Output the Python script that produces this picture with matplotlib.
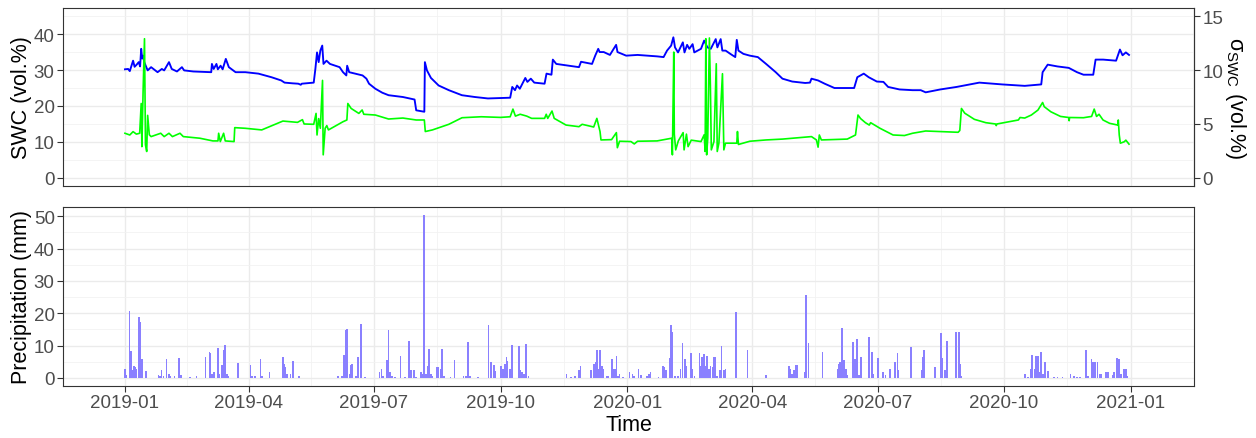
import numpy as np
import pandas as pd
import matplotlib
matplotlib.use("Agg")
import matplotlib.pyplot as plt
import matplotlib.dates as mdates

plt.rcParams['font.family'] = ['Liberation Sans', 'DejaVu Sans']
plt.rcParams['mathtext.fontset'] = 'custom'
plt.rcParams['mathtext.rm'] = 'Liberation Sans'
plt.rcParams['mathtext.it'] = 'Liberation Sans:italic'

start = pd.Timestamp('2019-01-01')

# soil water content (vol.%), day offsets from start
swc_day = [0, 2.3, 3.5, 5.9, 7, 8.5, 10, 11, 11.8, 12.5, 13.2, 14, 16.5, 19, 21, 23.7,
           26.8, 28.5, 32, 34, 37.8, 41.4, 43, 49.7, 62.7, 63.2, 64.5, 66.5, 67.5, 69.5,
           71, 73.3, 75.5, 80.4, 87.5, 97, 106.5, 113.6, 116, 122, 126, 127.8, 128.5,
           137.2, 138.4, 139.6, 140.8, 142, 143.4, 144.3, 146.5, 149, 156, 158.5, 160.9,
           161.5, 163, 172.7, 175.5, 177.4, 182, 187, 191.6, 202, 210.5, 211.7, 217.6,
           218, 219.5, 222.4, 228, 235.4, 244.9, 254.3, 263.8, 273, 280, 281.5, 283.5,
           285, 287, 291, 292.5, 295, 297.5, 305, 306.4, 310, 311, 313.5, 320.6, 330,
           331.5, 339.5, 341.8, 344, 345, 348, 352.5, 357, 358, 364.3, 372.6, 386.8,
           391.5, 394, 397, 398.6, 399.8, 402, 405.5, 406.7, 408.6, 410.2, 412.6, 413.8,
           418.7, 421, 422.2, 423.4, 425.8, 429.4, 430.6, 433, 434.2, 436.6, 440, 443.6,
           444.7, 445.9, 449.5, 454.2, 460, 466, 473, 477.9, 485, 494.4, 497.9, 499,
           503.8, 508.6, 515.7, 530, 532.3, 537, 540.6, 546.5, 551.3, 554.7, 563, 572.5,
           578.4, 582, 592.6, 604.5, 621, 637.6, 654, 666, 667, 670.7, 677.8, 686, 692,
           696.7, 703.8, 705.5, 711, 720.4, 723.2, 725.1, 727.5, 729.8]
swc_val = [30.2, 30.3, 29.7, 32.6, 30.9, 31.5, 32.2, 31, 35.9, 33.2, 34, 32.2, 29.9, 30.8,
           30.2, 29.4, 30.3, 29.9, 32.2, 30.3, 29.6, 30.8, 29.9, 29.6, 29.4, 31.7, 30.3,
           31.7, 30.2, 31.2, 30.2, 33.1, 30.8, 29.4, 29.4, 29.0, 28.0, 27.1, 26.5, 26.3,
           26.2, 25.9, 26.2, 26.5, 30.3, 34.9, 32.2, 35.4, 36.8, 31.7, 32.6, 31.7, 30.8,
           29.4, 28.5, 31.2, 29.4, 28.5, 27.6, 26.2, 24.8, 23.7, 23.0, 22.5, 21.8, 18.8,
           18.4, 32.2, 29.9, 27.8, 25.7, 24.4, 23.0, 22.5, 22.1, 22.2, 22.3, 25.3, 24.4,
           25.7, 24.8, 27.8, 26.7, 27.6, 26.5, 26.2, 29.0, 28.7, 32.9, 31.7, 31.3, 30.8,
           32.3, 31.7, 34.0, 35.9, 35, 35, 34.2, 37.0, 35, 34.0, 34.2, 33.8, 33.6, 35.4,
           36.8, 39.1, 36.3, 34.9, 37.7, 34.9, 37, 35.9, 37.2, 34.9, 35.9, 38.2, 37.2,
           36.3, 35.9, 38.6, 36.3, 38.6, 35.4, 35.4, 34.5, 33.6, 38.4, 35.4, 34.5, 34.0,
           33.6, 31.7, 29.4, 27.6, 26.8, 26.4, 26.5, 27.6, 27.1, 26.2, 25.0, 25.0, 28.0,
           29.0, 28.0, 26.8, 26.7, 25.3, 24.6, 24.4, 24.4, 23.8, 24.6, 25.3, 26.5, 26.0,
           25.6, 26.0, 29.4, 31.5, 31.0, 30.6, 29.4, 28.7, 28.7, 32.9, 32.9, 32.6, 35.7,
           34.1, 34.9, 34.2]

# standard deviation of SWC (vol.%), right axis
sd_day = [0, 3.5, 5.9, 8.3, 10.7, 11.8, 12.3, 13.2, 14.2, 14.9, 15.8, 16.5, 17.7, 19, 26,
          28.5, 32, 34.5, 40, 42.4, 54.4, 63.9, 67.6, 68.1, 69.3, 71.7, 72.9, 79.3, 79.8,
          87.5, 99.4, 114.8, 125.4, 129, 130.2, 137.2, 138.9, 139.6, 140.8, 142, 143.6,
          144.1, 145.5, 146.7, 147.9, 158.5, 161.3, 162, 164.4, 170, 172.4, 173.6, 182,
          191.6, 202, 211.7, 217.6, 218.3, 223.5, 235.4, 245, 259, 273, 280, 282, 283.8,
          287.3, 292, 295.6, 305, 306.2, 307.3, 310.4, 312, 320.6, 330, 332.3, 340.7, 343,
          345.3, 346, 353.7, 357.2, 357.9, 359.5, 367.8, 370.2, 372.6, 386.8, 397.4, 397.9,
          398.9, 399.3, 400.3, 402.2, 405.7, 406.4, 408.1, 409.3, 411.6, 418.7, 421, 421.7,
          422.2, 422.8, 423.6, 424.8, 425.5, 426.2, 428.1, 429.8, 430.5, 431.7, 434.3,
          435.3, 436.5, 444.7, 445.2, 445.9, 454.2, 466, 478, 499, 502.6, 503.8, 504.7,
          506.2, 525, 531, 532.8, 534.7, 538.2, 541, 542, 548.8, 558.3, 566.6, 572.5, 582,
          592.6, 605.6, 606.8, 608, 610.4, 617.4, 625.7, 632.8, 633.3, 633.8, 640, 649.4,
          650.6, 654, 658.8, 663.6, 667, 668.2, 673, 680, 686, 686.3, 686.6, 696.7, 702.6,
          704.5, 706.2, 708, 710.9, 715.7, 721.6, 722, 722.7, 723.5, 726.3, 727.5, 729.8]
sd_val = [4.14, 3.98, 4.29, 4.06, 4.14, 6.9, 2.9, 8.12, 12.9, 3.07, 2.45, 5.8, 4.0, 3.83,
          4.14, 3.83, 4.14, 3.83, 4.14, 3.83, 3.68, 3.43, 3.43, 4.14, 3.37, 4.14, 3.43,
          3.37, 4.66, 4.6, 4.45, 5.27, 5.15, 5.4, 5.0, 4.97, 5.98, 3.98, 5.5, 4.6, 9.04,
          2.14, 4.6, 4.85, 4.45, 5.21, 5.37, 6.9, 6.44, 5.98, 6.3, 5.9, 5.83, 5.46, 5.55,
          5.37, 5.37, 4.3, 4.45, 4.97, 5.58, 5.67, 5.61, 5.67, 6.38, 5.73, 5.9, 5.73, 5.52,
          5.52, 5.9, 5.52, 6.2, 5.52, 4.9, 4.75, 4.97, 4.72, 5.52, 4.3, 3.52, 3.55, 4.2,
          2.8, 3.4, 3.37, 3.15, 3.4, 3.43, 3.68, 2.14, 11.66, 4.06, 2.6, 3.43, 4.2, 2.6,
          4.06, 2.9, 3.5, 3.37, 4.0, 2.45, 12.9, 2.14, 3.68, 12.97, 8.6, 2.6, 3.37, 10.58,
          2.45, 3.22, 9.66, 2.6, 3.22, 3.22, 4.3, 3.1, 3.4, 3.52, 3.6, 3.83, 3.52, 2.85,
          3.98, 3.52, 3.6, 3.98, 5.83, 5.5, 5.12, 4.9, 5.12, 4.6, 3.98, 3.93, 4.14, 4.35,
          4.3, 4.23, 4.4, 6.44, 6.0, 5.43, 5.12, 5.0, 4.85, 5.0, 5.15, 5.37, 5.6, 5.55,
          5.83, 6.29, 6.99, 6.6, 6.13, 5.7, 5.6, 5.3, 5.6, 5.58, 5.7, 6.38, 5.7, 5.9,
          5.37, 5.06, 4.9, 5.37, 3.98, 3.22, 3.35, 3.5, 3.13]

# precipitation (mm); each line of rain_day matches the same line of rain_val
rain_day = [0, 0.7, 3.3, 4.5, 5.5, 6.5, 7.5, 8.5, 10.4, 11.4, 12.3, 15.4,
            24.4, 25.5, 26.5, 28, 30.3, 31.8, 33, 36, 39.4, 40.5,
            47.3, 52, 58.6, 61.4, 62.3, 63.4, 64.5, 67.4, 68.6, 70.5, 71.7, 72.6, 74, 75.3,
            82.3, 91.3, 92.3, 94.6, 98.4, 99.8, 105,
            114.7, 115.6, 116.5, 117.9, 120.3, 122.3, 126.5,
            155, 157.3, 158.5, 159.2, 160.4, 161.5, 163.3, 164, 165, 167.8, 169.3, 171.5, 174.5,
            185, 186.4, 187.6, 190.4, 191.6, 192.8, 194, 196.4, 200.4, 203.5, 206.5, 207.7,
            210, 211.7, 215.2, 216.4, 217.2,
            218.8, 220, 221.2, 222.4, 223.6, 226.7, 227.9, 229.4, 230.4, 231.8, 236.5, 239.6,
            246, 247.9, 249.5, 250.7, 256.6,
            264.2, 266, 268.2, 269.4, 273.2, 274.8, 276.2, 277.3, 278, 280, 281.3, 286.3,
            287.5, 288.7, 289.9, 291.5, 293.4,
            321, 324, 327.1, 329.9, 331.1, 338.8, 340.7, 341.9, 343, 344.2, 345.4, 346.6,
            347.8, 350.2, 351.4,
            354.2, 355.4, 356.1, 357.2, 358.4, 359.5, 361.9, 366.7, 369, 370.2, 373.3, 374.9,
            379.6, 380.8, 382, 387.9,
            391, 392.2, 393.1, 395.7, 396.7, 397.9, 399.8, 402.2, 403.9, 405.2, 406.9, 408.1,
            411.4, 412.3, 414,
            417.5, 418.2, 419.4, 421.1, 421.8, 423, 424.4, 425.6, 427, 428.1, 429.3, 430.5,
            432.4, 433.7, 435.3, 436.5,
            444, 452.5, 466, 482.6, 483.8, 485, 486.2, 487.4, 488.5, 494.5, 495.2, 496.8, 507,
            517.9, 518.8, 519.8, 521, 521.7, 523.1, 524, 525.2, 529.2, 530.6, 532.3, 533.5, 535.1,
            541, 543, 544.1, 547.2, 551, 552.9, 556, 559.5, 561.4, 562.3, 571.3, 578.9,
            580, 580.9, 589,
            593, 594, 595.9, 596.9, 597.7, 604, 606, 607.2, 608.1,
            654, 656.4, 658.3, 659.5, 661.2, 662.4, 663.6, 664.8, 666, 667.2, 668.8, 671.1,
            675.5, 677.9, 681.4,
            687.2, 689.6, 692, 694.4, 698.6, 699.8, 702.6, 703.8, 705, 707, 708.6, 709.8,
            713.3, 714.5, 717.8, 719, 720.9, 722.6, 723.8, 726.3, 727.5, 728.7]
rain_val = [2.8, 0.9, 20.6, 8.2, 2.3, 3.8, 3.3, 2.8, 18.8, 17.2, 5.7, 2.0,
            0.9, 0.7, 2.3, 0.5, 5.9, 1.2, 0.5, 0.5, 6.2, 0.9,
            0.3, 0.7, 6.6, 7.9, 7.6, 1.2, 1.8, 9.3, 1.2, 4.0, 8.5, 10.2, 1.2, 0.7,
            4.6, 4.0, 0.5, 0.5, 5.9, 0.5, 1.8,
            6.6, 4.3, 3.3, 1.2, 1.2, 5.3, 0.7,
            0.5, 0.7, 0.5, 7.2, 14.9, 15.0, 1.2, 4.0, 4.3, 0.5, 6.6, 16.6, 0.2,
            1.8, 2.8, 0.5, 5.4, 14.8, 1.8, 0.7, 0.3, 6.8, 0.3, 11.3, 2.3,
            2.3, 0.2, 1.8, 1.2, 50.3,
            1.2, 3.6, 8.8, 1.2, 0.5, 3.2, 3.2, 2.8, 9.0, 0.5, 0.2, 5.4,
            0.5, 0.5, 11.2, 0.5, 0.2,
            16.2, 4.8, 4.0, 2.0, 3.8, 2.8, 4.3, 6.6, 5.3, 2.8, 10.2, 9.8,
            2.3, 1.8, 1.2, 10.5, 0.5,
            1.2, 0.3, 0.5, 2.3, 3.8, 2.3, 4.3, 4.8, 8.7, 2.8, 8.7, 3.8,
            2.8, 0.5, 0.5,
            5.9, 2.8, 2.8, 6.9, 0.7, 1.2, 0.2, 1.8, 1.2, 0.5, 2.6, 0.9,
            0.7, 1.2, 1.8, 0.3,
            3.6, 3.3, 2.3, 6.1, 16.2, 14.1, 0.5, 0.5, 2.8, 10.7, 5.9, 3.8,
            7.6, 2.8, 0.7,
            7.6, 3.8, 6.4, 7.4, 3.8, 6.9, 2.8, 3.8, 3.3, 6.4, 6.4, 0.5,
            2.3, 10.0, 2.3, 2.8,
            20.3, 8.5, 0.9, 3.6, 2.8, 1.2, 2.3, 4.0, 4.0, 1.8, 25.7, 10.8, 8.1,
            2.8, 4.3, 4.8, 15.4, 5.4, 5.4, 2.8, 0.9, 11.0, 5.9, 12.1, 0.9, 6.4,
            12.6, 7.9, 1.2, 6.1, 1.8, 0.9, 2.8, 4.8, 7.6, 2.3, 9.4, 2.3,
            6.4, 8.7, 3.5,
            13.8, 6.1, 2.5, 2.5, 11.3, 14.1, 14.3, 4.3, 0.7,
            1.2, 0.2, 2.8, 7.1, 2.8, 6.7, 6.7, 1.8, 8.1, 1.2, 4.8, 2.0,
            0.4, 0.2, 0.2,
            1.2, 0.7, 0.4, 0.4, 8.5, 0.7, 5.9, 5.0, 5.0, 5.0, 1.2, 1.2,
            1.8, 1.8, 0.9, 1.8, 6.2, 5.9, 1.2, 2.8, 2.8, 0.7]

swc_t = start + pd.to_timedelta(swc_day, unit='D')
sd_t = start + pd.to_timedelta(sd_day, unit='D')
rain_t = start + pd.to_timedelta(rain_day, unit='D')

major = pd.date_range('2019-01-01', '2021-01-01', freq='QS')
major_n = mdates.date2num(major)
minor_n = (major_n[:-1] + major_n[1:]) / 2
minor_n = np.concatenate([[major_n[0] - (major_n[1] - major_n[0]) / 2], minor_n,
                          [major_n[-1] + (major_n[-1] - major_n[-2]) / 2]])
xlo = mdates.date2num(start) - 36.5
xhi = mdates.date2num(start) + 766.3

fig = plt.figure(figsize=(12.56, 4.39), dpi=100)
ax1 = fig.add_axes([0.0502, 0.574, 0.9004, 0.4055])
ax2 = fig.add_axes([0.0502, 0.1185, 0.9004, 0.4077])

tick_col = '#4D4D4D'
for ax in (ax1, ax2):
    ax.set_facecolor('white')
    ax.set_xlim(xlo, xhi)
    ax.set_xticks(major_n)
    ax.set_xticks(minor_n, minor=True)
    ax.grid(True, which='major', color='#EBEBEB', lw=1.0, zorder=0)
    ax.grid(True, which='minor', color='#F2F2F2', lw=0.6, zorder=0)
    ax.set_axisbelow(True)
    for s in ax.spines.values():
        s.set_color('#333333')
        s.set_linewidth(0.8)
    ax.tick_params(which='major', length=4, width=0.8, color='#333333',
                   labelsize=13.5, labelcolor=tick_col, pad=2)
    ax.tick_params(which='minor', length=0)

# top panel
ax1.plot(swc_t, swc_val, color='#0000FF', lw=1.35, zorder=3)
ax1.plot(sd_t, np.array(sd_val) * 3, color='#00FF00', lw=1.2, zorder=3)
ax1.set_ylim(-2.25, 47.25)
ax1.set_yticks([0, 10, 20, 30, 40])
ax1.set_yticks([5, 15, 25, 35, 45], minor=True)
ax1.tick_params(axis='x', which='both', bottom=False, labelbottom=False)
ax1.set_ylabel('SWC (vol.%)', fontsize=15.5, labelpad=1)
sec = ax1.secondary_yaxis('right', functions=(lambda v: v / 3, lambda v: v * 3))
sec.set_yticks([0, 5, 10, 15])
sec.tick_params(length=4, width=0.8, color='#333333', labelsize=13.5,
                labelcolor=tick_col, pad=2)
sec.spines['right'].set_color('#333333')
sec.spines['right'].set_linewidth(0.8)
sec.set_ylabel('σ$_{\\mathrm{SWC}}$ (vol.%)', fontsize=15.5, rotation=270,
               labelpad=18)

# bottom panel
ax2.bar(rain_t, rain_val, width=1.2, color='#8A80FF', lw=0, zorder=3)
ax2.set_ylim(-2.52, 52.86)
ax2.set_yticks([0, 10, 20, 30, 40, 50])
ax2.set_yticks([5, 15, 25, 35, 45], minor=True)
ax2.set_xticklabels([d.strftime('%Y-%m') for d in major])
ax2.set_ylabel('Precipitation (mm)', fontsize=15.5, labelpad=1)
ax2.set_xlabel('Time', fontsize=15.5, labelpad=2)

fig.savefig('out.png', dpi=100)
